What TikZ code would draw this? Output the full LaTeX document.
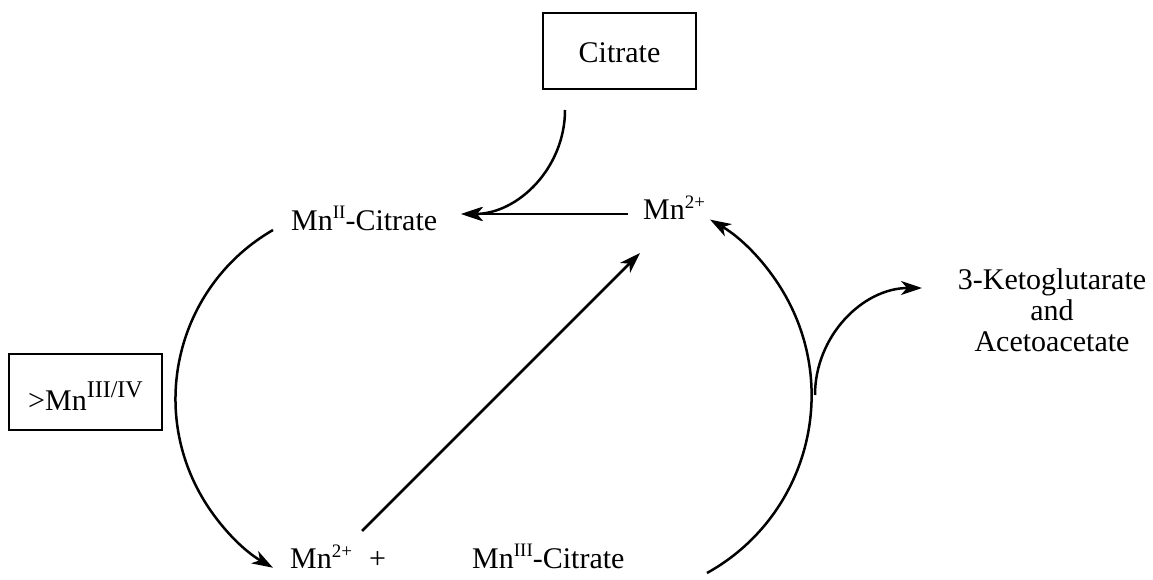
\documentclass[tikz,border=0pt]{standalone}
\usepackage{fontspec}
\setmainfont{Liberation Serif}
\usetikzlibrary{arrows.meta}
\newcommand{\upsc}[3]{\raisebox{#2}{\fontsize{#1}{#1}\selectfont #3}}
\begin{document}
\begin{tikzpicture}[x=1pt,y=1pt,
  conn/.style={line width=2.5pt,-{Stealth[length=21pt,width=14pt,inset=6pt]}},
  boxnode/.style={draw,line width=2.5pt,minimum width=153pt,minimum height=76pt,inner sep=0pt,font=\fontsize{30}{32}\selectfont},
  lbl/.style={inner sep=0pt,font=\fontsize{30}{32}\selectfont}]
\useasboundingbox (0,0) rectangle (1153,-580);
% boxes
\node[boxnode,text height=24pt,text depth=0pt] (citrate) at (619.5,-51) {Citrate};
\node[boxnode,text height=36pt,text depth=0pt] (mnox) at (85.5,-392) {>Mn\upsc{24pt}{13pt}{III/IV}};
% labels
\node[lbl,anchor=base west] (mnIIcit) at (291,-230) {Mn\upsc{19pt}{12pt}{II}-Citrate};
\node[lbl,anchor=base west] (mntop) at (643,-219) {Mn\upsc{19pt}{11pt}{2+}};
\node[lbl,anchor=base west] (mnbot) at (290,-568) {Mn\upsc{19pt}{11pt}{2+}\hspace{17pt}+};
\node[lbl,anchor=base west] (mnIIIcit) at (472,-568) {Mn\upsc{19pt}{12pt}{III}-Citrate};
\node[lbl,anchor=base] (prodA) at (1052,-289) {3-Ketoglutarate};
\node[lbl,anchor=base] (prodB) at (1052,-320) {and};
\node[lbl,anchor=base] (prodC) at (1052,-351) {Acetoacetate};
% connector end points
\coordinate (citS) at (565,-110);
\coordinate (horS) at (628,-214);
\coordinate (horE) at (462,-214);
\coordinate (leftS) at (273,-230);
\coordinate (diagS) at (362,-531);
\coordinate (diagE) at (640,-253);
\coordinate (rightS) at (707,-573);
\coordinate (sideS) at (815,-395);
% connectors
\draw[conn] (citS) arc[start angle=0,end angle=-90,radius=104];
\draw[conn] (horS) -- (horE);
\draw[conn] (leftS) arc[start angle=120,end angle=240,radius=195];
\draw[conn] (diagS) -- (diagE);
\draw[conn] (rightS) arc[start angle=-61,end angle=60,radius=203];
\draw[conn] (sideS) arc[start angle=180,end angle=90,radius=107];
\end{tikzpicture}
\end{document}
